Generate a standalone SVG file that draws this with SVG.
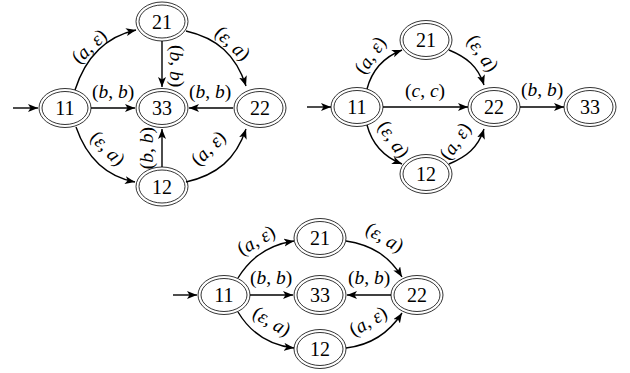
<svg xmlns="http://www.w3.org/2000/svg" width="630" height="373" viewBox="0 0 630 373">
<style>
.n ellipse{fill:none;stroke:#000;stroke-width:0.8}
.n text{font-family:"Liberation Serif","DejaVu Serif",serif;font-size:20px;text-anchor:middle;dominant-baseline:central;fill:#000}
.e path,.e line{fill:none;stroke:#000;stroke-width:1.4;marker-end:url(#ah)}
.l{font-family:"Liberation Serif","DejaVu Serif",serif;font-size:19.5px;text-anchor:middle;dominant-baseline:central;fill:#000}
.i{font-style:italic}
</style>
<defs>
<marker id="ah" markerUnits="userSpaceOnUse" markerWidth="11" markerHeight="9" refX="10" refY="4" orient="auto">
<path d="M0,0 L10,4 L0,8 L2.5,4 Z" fill="#000"/>
</marker>
</defs>
<rect width="630" height="373" fill="#fff"/>

<!-- Diagram 1 -->
<g id="d1-n11" class="n"><ellipse cx="65" cy="108" rx="26" ry="19.5"/><ellipse cx="65" cy="108" rx="23" ry="16.5"/><text x="65" y="108">11</text></g>
<g id="d1-n21" class="n"><ellipse cx="162" cy="21.5" rx="26" ry="19.5"/><ellipse cx="162" cy="21.5" rx="23" ry="16.5"/><text x="162" y="21.5">21</text></g>
<g id="d1-n33" class="n"><ellipse cx="162" cy="108" rx="26" ry="19.5"/><ellipse cx="162" cy="108" rx="23" ry="16.5"/><text x="162" y="108">33</text></g>
<g id="d1-n12" class="n"><ellipse cx="162" cy="186.5" rx="26" ry="19.5"/><ellipse cx="162" cy="186.5" rx="23" ry="16.5"/><text x="162" y="186.5">12</text></g>
<g id="d1-n22" class="n"><ellipse cx="260" cy="108" rx="26" ry="19.5"/><ellipse cx="260" cy="108" rx="23" ry="16.5"/><text x="260" y="108">22</text></g>
<g id="d1-edges" class="e">
<line x1="13" y1="108" x2="38" y2="108"/>
<path d="M75,90 C85,59 104,37 136,30"/>
<path d="M186,31 C217,38 236,55 246,86"/>
<path d="M76,127 C86,156 104,176 135,182"/>
<path d="M186,182 C217,175 236,159 246,129"/>
<line x1="91" y1="108" x2="135" y2="108"/>
<line x1="233" y1="108" x2="189" y2="108"/>
<line x1="162" y1="41" x2="162" y2="87"/>
<line x1="162" y1="167" x2="162" y2="129"/>
</g>
<g id="d1-labels">
<text class="l" transform="translate(89,46) rotate(-43)">(<tspan class="i">a</tspan>, <tspan class="i">ε</tspan>)</text>
<text class="l" transform="translate(233,43) rotate(43)">(<tspan class="i">ε</tspan>, <tspan class="i">a</tspan>)</text>
<text class="l" transform="translate(108,148) rotate(45)">(<tspan class="i">ε</tspan>, <tspan class="i">a</tspan>)</text>
<text class="l" transform="translate(208,148) rotate(-45)">(<tspan class="i">a</tspan>, <tspan class="i">ε</tspan>)</text>
<text class="l" x="113" y="91">(<tspan class="i">b</tspan>, <tspan class="i">b</tspan>)</text>
<text class="l" x="210" y="91">(<tspan class="i">b</tspan>, <tspan class="i">b</tspan>)</text>
<text class="l" transform="translate(177,66) rotate(90)">(<tspan class="i">b</tspan>, <tspan class="i">b</tspan>)</text>
<text class="l" transform="translate(146,148) rotate(-90)">(<tspan class="i">b</tspan>, <tspan class="i">b</tspan>)</text>
</g>

<!-- Diagram 2 -->
<g id="d2-n11" class="n"><ellipse cx="357" cy="107" rx="26" ry="19.5"/><ellipse cx="357" cy="107" rx="23" ry="16.5"/><text x="357" y="107">11</text></g>
<g id="d2-n21" class="n"><ellipse cx="426" cy="40" rx="26" ry="19.5"/><ellipse cx="426" cy="40" rx="23" ry="16.5"/><text x="426" y="40">21</text></g>
<g id="d2-n22" class="n"><ellipse cx="494" cy="107" rx="26" ry="19.5"/><ellipse cx="494" cy="107" rx="23" ry="16.5"/><text x="494" y="107">22</text></g>
<g id="d2-n12" class="n"><ellipse cx="426" cy="174" rx="26" ry="19.5"/><ellipse cx="426" cy="174" rx="23" ry="16.5"/><text x="426" y="174">12</text></g>
<g id="d2-n33" class="n"><ellipse cx="590" cy="107" rx="26" ry="19.5"/><ellipse cx="590" cy="107" rx="23" ry="16.5"/><text x="590" y="107">33</text></g>
<g id="d2-edges" class="e">
<line x1="307" y1="107" x2="331" y2="107"/>
<path d="M367,89 C372,70 384,57 402,50"/>
<path d="M449,50 C466,57 478,66 484,85"/>
<line x1="383" y1="107" x2="468" y2="107"/>
<path d="M367,125 C372,144 384,157 402,164"/>
<path d="M449,164 C466,157 478,148 484,129"/>
<line x1="520" y1="107" x2="564" y2="107"/>
</g>
<g id="d2-labels">
<text class="l" transform="translate(370,55) rotate(-55)">(<tspan class="i">a</tspan>, <tspan class="i">ε</tspan>)</text>
<text class="l" transform="translate(483,53) rotate(55)">(<tspan class="i">ε</tspan>, <tspan class="i">a</tspan>)</text>
<text class="l" x="425" y="90">(<tspan class="i">c</tspan>, <tspan class="i">c</tspan>)</text>
<text class="l" transform="translate(394,139) rotate(55)">(<tspan class="i">ε</tspan>, <tspan class="i">a</tspan>)</text>
<text class="l" transform="translate(455,141) rotate(-55)">(<tspan class="i">a</tspan>, <tspan class="i">ε</tspan>)</text>
<text class="l" x="542" y="89">(<tspan class="i">b</tspan>, <tspan class="i">b</tspan>)</text>
</g>

<!-- Diagram 3 -->
<g id="d3-n11" class="n"><ellipse cx="224" cy="295" rx="26" ry="19.5"/><ellipse cx="224" cy="295" rx="23" ry="16.5"/><text x="224" y="295">11</text></g>
<g id="d3-n21" class="n"><ellipse cx="320" cy="238" rx="26" ry="19.5"/><ellipse cx="320" cy="238" rx="23" ry="16.5"/><text x="320" y="238">21</text></g>
<g id="d3-n33" class="n"><ellipse cx="320" cy="295" rx="26" ry="19.5"/><ellipse cx="320" cy="295" rx="23" ry="16.5"/><text x="320" y="295">33</text></g>
<g id="d3-n12" class="n"><ellipse cx="320" cy="349" rx="26" ry="19.5"/><ellipse cx="320" cy="349" rx="23" ry="16.5"/><text x="320" y="349">12</text></g>
<g id="d3-n22" class="n"><ellipse cx="417" cy="295" rx="26" ry="19.5"/><ellipse cx="417" cy="295" rx="23" ry="16.5"/><text x="417" y="295">22</text></g>
<g id="d3-edges" class="e">
<line x1="173" y1="295" x2="197" y2="295"/>
<path d="M238,278 C250,258 268,245 294,241"/>
<path d="M346,241 C372,245 389,256 402,277"/>
<line x1="250" y1="295" x2="293" y2="295"/>
<line x1="391" y1="295" x2="347" y2="295"/>
<path d="M238,312 C250,332 268,345 294,348"/>
<path d="M346,348 C372,345 389,333 402,313"/>
</g>
<g id="d3-labels">
<text class="l" transform="translate(256,240) rotate(-30)">(<tspan class="i">a</tspan>, <tspan class="i">ε</tspan>)</text>
<text class="l" transform="translate(385,237) rotate(30)">(<tspan class="i">ε</tspan>, <tspan class="i">a</tspan>)</text>
<text class="l" x="271" y="277">(<tspan class="i">b</tspan>, <tspan class="i">b</tspan>)</text>
<text class="l" x="369" y="277">(<tspan class="i">b</tspan>, <tspan class="i">b</tspan>)</text>
<text class="l" transform="translate(272,321) rotate(30)">(<tspan class="i">ε</tspan>, <tspan class="i">a</tspan>)</text>
<text class="l" transform="translate(368,321) rotate(-30)">(<tspan class="i">a</tspan>, <tspan class="i">ε</tspan>)</text>
</g>
</svg>
